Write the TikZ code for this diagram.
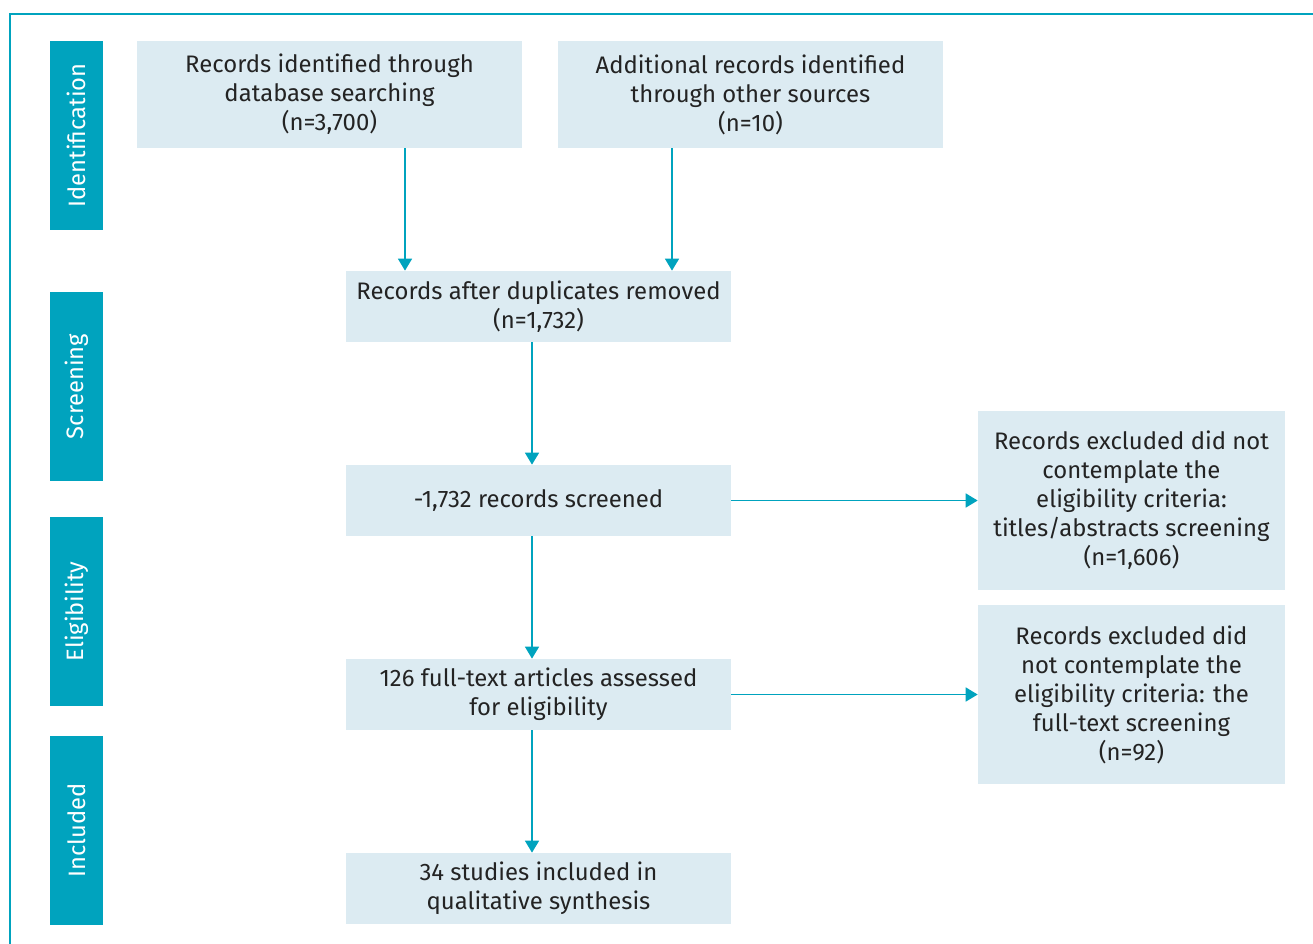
\documentclass[tikz,border=0pt]{standalone}
\usepackage{fontspec}
\setmainfont{Fira Sans}
\usetikzlibrary{arrows.meta}
\usetikzlibrary{calc}
\definecolor{teal}{RGB}{0,163,190}
\definecolor{boxblue}{RGB}{220,235,242}
\definecolor{txt}{RGB}{35,35,35}

\begin{document}
\begin{tikzpicture}[x=0.02cm, y=-0.02cm, >={Triangle[length=0.24cm,width=0.28cm]},
box/.style={fill=boxblue, text=txt, align=center, inner sep=0pt, font=\fontsize{13.6}{16.5}\selectfont},
stage/.style={fill=teal, text=white, minimum width=1.06cm, minimum height=3.78cm, inner sep=0pt, font=\fontsize{13.5}{15}\selectfont},
arr/.style={->, teal, line width=0.9pt}]
\useasboundingbox (0,0) rectangle (1313,944);

% frame
\draw [teal, line width=1.2pt] (10,944) -- (10,14) -- (1313,14);

% stages
\node [stage] (sid) at (76.5,135.5) {\rotatebox{90}{Identification}};
\node [stage] (ssc) at (76.5,386.5) {\rotatebox{90}{Screening}};
\node [stage] (sel) at (76.5,611.5) {\rotatebox{90}{Eligibility}};
\node [stage] (sin) at (76.5,830.5) {\rotatebox{90}{Included}};

% boxes
\node [box, minimum width=7.7cm, minimum height=2.14cm] (rec) at (329.5,94.5) {Records identified through\\database searching\\(n=3,700)};
\node [box, minimum width=7.7cm, minimum height=2.14cm] (add) at (750.5,94.5) {Additional records identified\\through other sources\\(n=10)};
\node [box, minimum width=7.7cm, minimum height=1.42cm] (dup) at (538.5,306.5) {Records after duplicates removed\\(n=1,732)};
\node [box, minimum width=7.7cm, minimum height=1.42cm] (scr) at (538.5,500.5) {-1,732 records screened};
\node [box, minimum width=7.7cm, minimum height=1.42cm] (full) at (538.5,694.5) {126 full-text articles assessed\\for eligibility};
\node [box, minimum width=7.7cm, minimum height=1.42cm] (inc) at (538.5,888.5) {34 studies included in\\qualitative synthesis};
\node [box, minimum width=6.14cm, minimum height=3.58cm] (ex1) at (1131.5,500.5) {Records excluded did not\\contemplate the\\eligibility criteria:\\titles/abstracts screening\\(n=1,606)};
\node [box, minimum width=6.14cm, minimum height=3.58cm] (ex2) at (1131.5,694.5) {Records excluded did\\not contemplate the\\eligibility criteria: the\\full-text screening\\(n=92)};

% arrows
\coordinate (xa) at (405,0);
\coordinate (xb) at (672,0);
\coordinate (xc) at (532,0);
\draw [arr] (xa |- rec.south) -- (xa |- dup.north);
\draw [arr] (xb |- add.south) -- (xb |- dup.north);
\draw [arr] (xc |- dup.south) -- (xc |- scr.north);
\draw [arr] (xc |- scr.south) -- (xc |- full.north);
\draw [arr] (xc |- full.south) -- (xc |- inc.north);
\draw [arr] (scr.east) -- (ex1.west);
\draw [arr] (full.east) -- (ex2.west);
\end{tikzpicture}
\end{document}
